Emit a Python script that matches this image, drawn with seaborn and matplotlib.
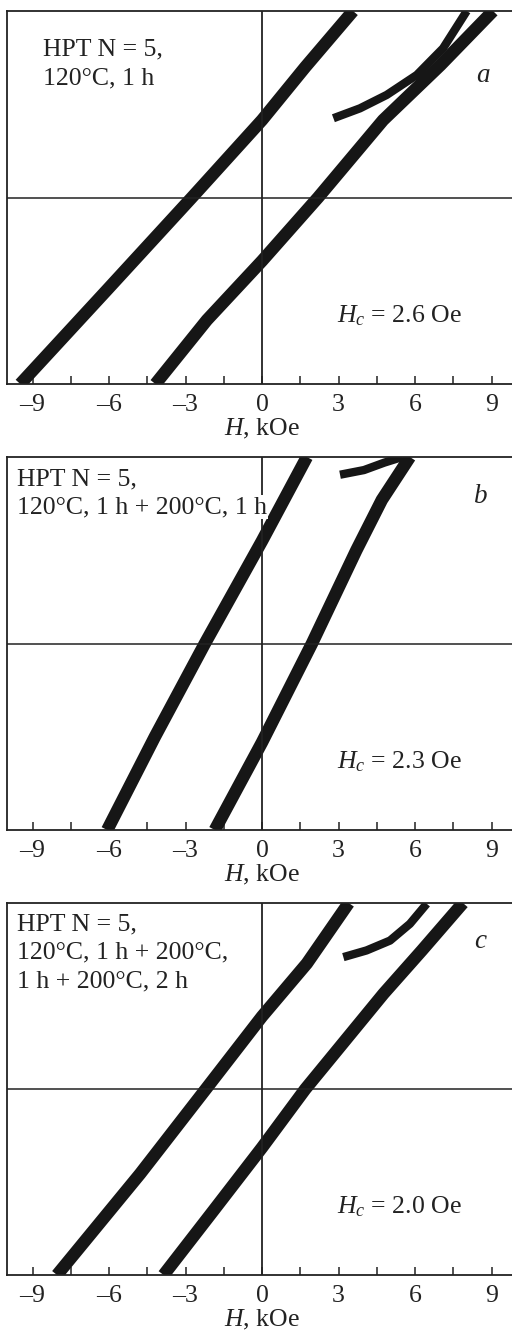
import matplotlib
matplotlib.use("Agg")
import matplotlib.pyplot as plt
import seaborn as sns
import pandas as pd
from matplotlib.ticker import MultipleLocator, FixedLocator

# ---------------- data ----------------
# panel a
aL_H = [-9.48, -6.08, -2.75, 0.0, 1.7, 3.57]
aL_M = [-1.0, -0.496, 0.0, 0.415, 0.70, 1.0]
aR_H = [-4.18, -2.16, 0.0, 2.2, 4.75, 7.0, 9.06]
aR_M = [-1.0, -0.657, -0.34, 0.0, 0.415, 0.71, 1.0]
aT_H = [2.8, 3.84, 4.89, 6.07, 7.1, 8.03]
aT_M = [0.425, 0.478, 0.55, 0.657, 0.80, 1.0]
# panel b
bL_H = [-6.07, -4.2, -2.24, 0.0, 1.76]
bL_M = [-1.0, -0.5, 0.0, 0.55, 1.0]
bR_H = [-1.85, 0.0, 1.96, 3.7, 4.7, 5.8]
bR_M = [-1.0, -0.53, 0.0, 0.5, 0.77, 1.0]
bT_H = [3.06, 4.0, 4.8, 5.5]
bT_M = [0.905, 0.93, 0.97, 1.0]
# panel c
cL_H = [-8.04, -4.78, -2.2, 0.0, 1.76, 3.4]
cL_M = [-1.0, -0.456, 0.0, 0.39, 0.675, 1.0]
cR_H = [-3.86, -1.9, 0.0, 1.7, 4.77, 6.27, 7.88]
cR_M = [-1.0, -0.653, -0.315, 0.0, 0.513, 0.745, 1.0]
cT_H = [3.19, 4.1, 5.02, 5.8, 6.46]
cT_M = [0.709, 0.745, 0.798, 0.888, 0.996]

panel_letters = ["a", "b", "c"]
panel_notes = [
    ["HPT N = 5,", "120°C, 1 h"],
    ["HPT N = 5,", "120°C, 1 h + 200°C, 1 h"],
    ["HPT N = 5,", "120°C, 1 h + 200°C,", "1 h + 200°C, 2 h"],
]
hc_values = ["2.6", "2.3", "2.0"]
tick_values = [-9, -6, -3, 0, 3, 6, 9]

branches = [
    [(aL_H, aL_M, "band"), (aR_H, aR_M, "band"), (aT_H, aT_M, "tail")],
    [(bL_H, bL_M, "band"), (bR_H, bR_M, "band"), (bT_H, bT_M, "tail")],
    [(cL_H, cL_M, "band"), (cR_H, cR_M, "band"), (cT_H, cT_M, "tail")],
]

# ---------------- style ----------------
sns.set_theme(style="white")
plt.rcParams["font.family"] = ["Liberation Serif", "DejaVu Serif"]
plt.rcParams["mathtext.fontset"] = "custom"
plt.rcParams["mathtext.rm"] = "Liberation Serif"
plt.rcParams["mathtext.it"] = "Liberation Serif:italic"
FS = 18.5
INK = "#161616"

W, Hpx = 512, 1342
fig = plt.figure(figsize=(W / 100, Hpx / 100), dpi=100)

# axes pixel boxes: (left, top, right, bottom)
boxes = [(7, 11, 517, 384), (7, 457, 517, 830), (7, 903, 517, 1275)]
note_x = [43, 17, 17]
note_base = [[55, 84], [485, 513], [930, 958, 987]]
letter_pos = [(483, 82), (481, 503), (480, 948)]
hc_pos = [(337, 322), (337, 768), (337, 1213)]

for i, (l, t, r, b) in enumerate(boxes):
    ax = fig.add_axes([l / W, 1 - b / Hpx, (r - l) / W, (b - t) / Hpx])
    ax.set_xlim(-10, 10)
    ax.set_ylim(-1, 1)
    for (hx, my, kind) in branches[i]:
        df = pd.DataFrame({"H": hx, "M": my})
        sns.lineplot(data=df, x="H", y="M", sort=False, estimator=None, ax=ax,
                     color=INK, lw=9 if kind == "band" else 6,
                     solid_capstyle="butt", solid_joinstyle="round")
    ax.axhline(0, color="#222222", lw=1.1, zorder=3)
    ax.axvline(0, color="#222222", lw=1.3, zorder=3)

    for side in ["left", "top", "bottom"]:
        ax.spines[side].set_visible(True)
        ax.spines[side].set_color("#222222")
        ax.spines[side].set_linewidth(1.3)
    ax.spines["right"].set_visible(False)

    ax.xaxis.set_major_locator(FixedLocator(tick_values))
    ax.xaxis.set_minor_locator(MultipleLocator(1.5))
    ax.set_xticklabels([("\u2013" + str(-v)) if v < 0 else str(v) for v in tick_values])
    ax.tick_params(axis="x", which="both", direction="in", length=6, width=1.1,
                   color="#222222", bottom=True, top=False, labelsize=FS, pad=7,
                   labelcolor="#222222")
    ax.set_yticks([])
    ax.set_ylabel("")
    ax.set_xlabel("$H$, kOe", fontsize=FS, color="#222222", labelpad=1)

    def to_ax(px, py):
        return (px - l) / (r - l), (b - py) / (b - t)

    for line, yb in zip(panel_notes[i], note_base[i]):
        x0, y0 = to_ax(note_x[i], yb)
        ax.text(x0, y0, line, transform=ax.transAxes, fontsize=FS, color="#222222",
                ha="left", va="baseline", zorder=5,
                bbox=dict(facecolor="white", edgecolor="none", pad=0.5))
    lx, ly = to_ax(*letter_pos[i])
    ax.text(lx, ly, panel_letters[i], transform=ax.transAxes, fontsize=FS + 1,
            fontstyle="italic", color="#222222", ha="center", va="baseline")
    hx0, hy0 = to_ax(*hc_pos[i])
    ax.text(hx0, hy0, "$H_c$ = " + hc_values[i] + " Oe", transform=ax.transAxes,
            fontsize=FS, color="#222222", ha="left", va="baseline")

fig.savefig("out.png", dpi=100)
